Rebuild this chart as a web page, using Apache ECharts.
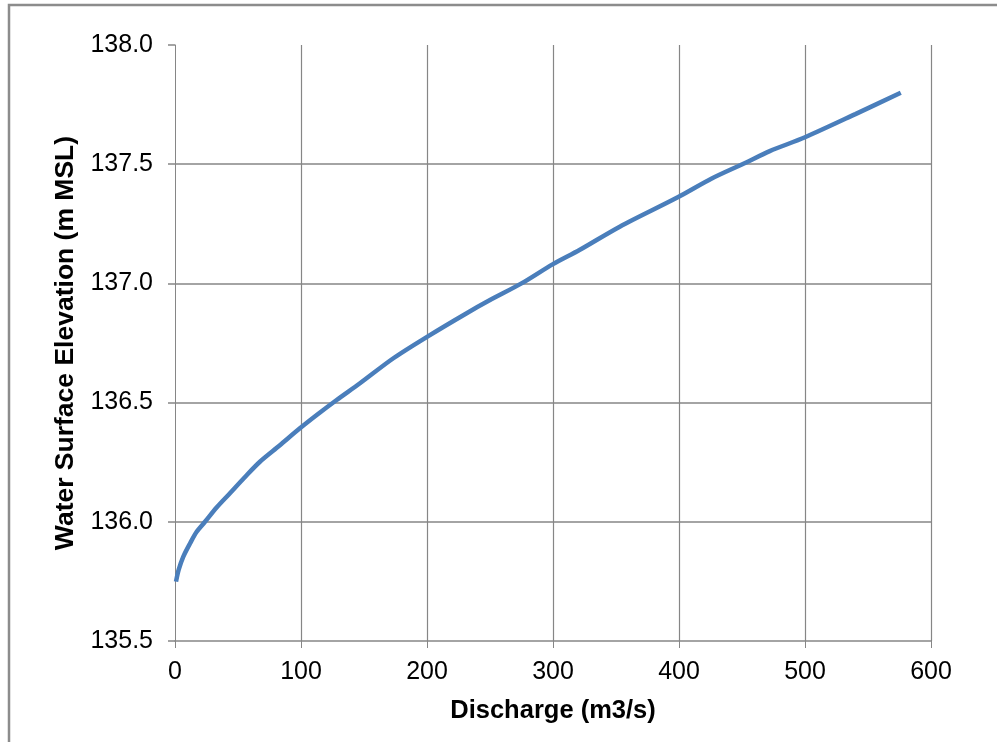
<!DOCTYPE html>
<html>
<head>
<meta charset="utf-8">
<style>
  html, body { margin: 0; padding: 0; background: #ffffff; }
  #chart { width: 997px; height: 742px; }
</style>
<script src="https://cdn.jsdelivr.net/npm/echarts@6/dist/echarts.min.js"></script>
</head>
<body>
<div id="chart"></div>
<script>
// Stage-discharge rating curve
const discharge = [0.8, 3, 6.6, 12, 17.2, 23.8, 33, 43.6, 55, 67.4, 83, 99.1, 113, 128.3, 146.8,
  173.3, 201, 231.5, 250, 275, 300, 321, 353, 399, 426, 452, 472, 500, 540, 576];
const elevation = [135.749, 135.80, 135.854, 135.91, 135.958, 136.0, 136.06, 136.12, 136.185, 136.252,
  136.32, 136.392, 136.45, 136.511, 136.581, 136.686, 136.779, 136.875, 136.93, 137.0, 137.081,
  137.14, 137.238, 137.361, 137.44, 137.504, 137.555, 137.613, 137.71, 137.80];
const xTicks = { min: 0, max: 600, step: 100 };
const yTicks = { min: 135.5, max: 138.0, step: 0.5 };

const gridColor = '#868686';
const font = '"Liberation Sans", Arial, sans-serif';

const chart = echarts.init(document.getElementById('chart'), null, { renderer: 'canvas' });
chart.setOption({
  animation: false,
  backgroundColor: '#ffffff',
  graphic: [{
    type: 'rect',
    shape: { x: 9, y: 5, width: 1100, height: 900 },
    style: { fill: 'none', stroke: '#8c8c8c', lineWidth: 2.5 },
    silent: true
  }],
  grid: { left: 175, right: 66, top: 45, bottom: 101 },
  xAxis: {
    type: 'value',
    min: xTicks.min, max: xTicks.max, interval: xTicks.step,
    name: 'Discharge (m3/s)',
    nameLocation: 'middle',
    nameGap: 57,
    nameTextStyle: { fontFamily: font, fontSize: 25.5, fontWeight: 'bold', color: '#000' },
    axisLine: { show: true, lineStyle: { color: gridColor, width: 1.5 } },
    axisTick: { show: true, length: 7, lineStyle: { color: gridColor, width: 1 } },
    axisLabel: { margin: 19, fontFamily: font, fontSize: 25, color: '#000' },
    splitLine: { show: true, showMinLine: false, lineStyle: { color: gridColor, width: 1.2 } }
  },
  yAxis: {
    type: 'value',
    min: yTicks.min, max: yTicks.max, interval: yTicks.step,
    name: 'Water Surface Elevation (m MSL)',
    nameLocation: 'middle',
    nameGap: 94,
    nameRotate: 90,
    nameTextStyle: { fontFamily: font, fontSize: 26.5, fontWeight: 'bold', color: '#000' },
    axisLine: { show: true, lineStyle: { color: gridColor, width: 1 } },
    axisTick: { show: true, length: 7, lineStyle: { color: gridColor, width: 1.5 } },
    axisLabel: {
      margin: 22, fontFamily: font, fontSize: 25, color: '#000',
      formatter: v => v.toFixed(1)
    },
    splitLine: { show: true, showMinLine: false, showMaxLine: false, lineStyle: { color: gridColor, width: 1.5 } }
  },
  series: [{
    type: 'line',
    data: discharge.map((q, i) => [q, elevation[i]]),
    showSymbol: false,
    smooth: 0.3,
    lineStyle: { color: '#4a7ebb', width: 4.5 },
    itemStyle: { color: '#4a7ebb' }
  }]
});
</script>
</body>
</html>
